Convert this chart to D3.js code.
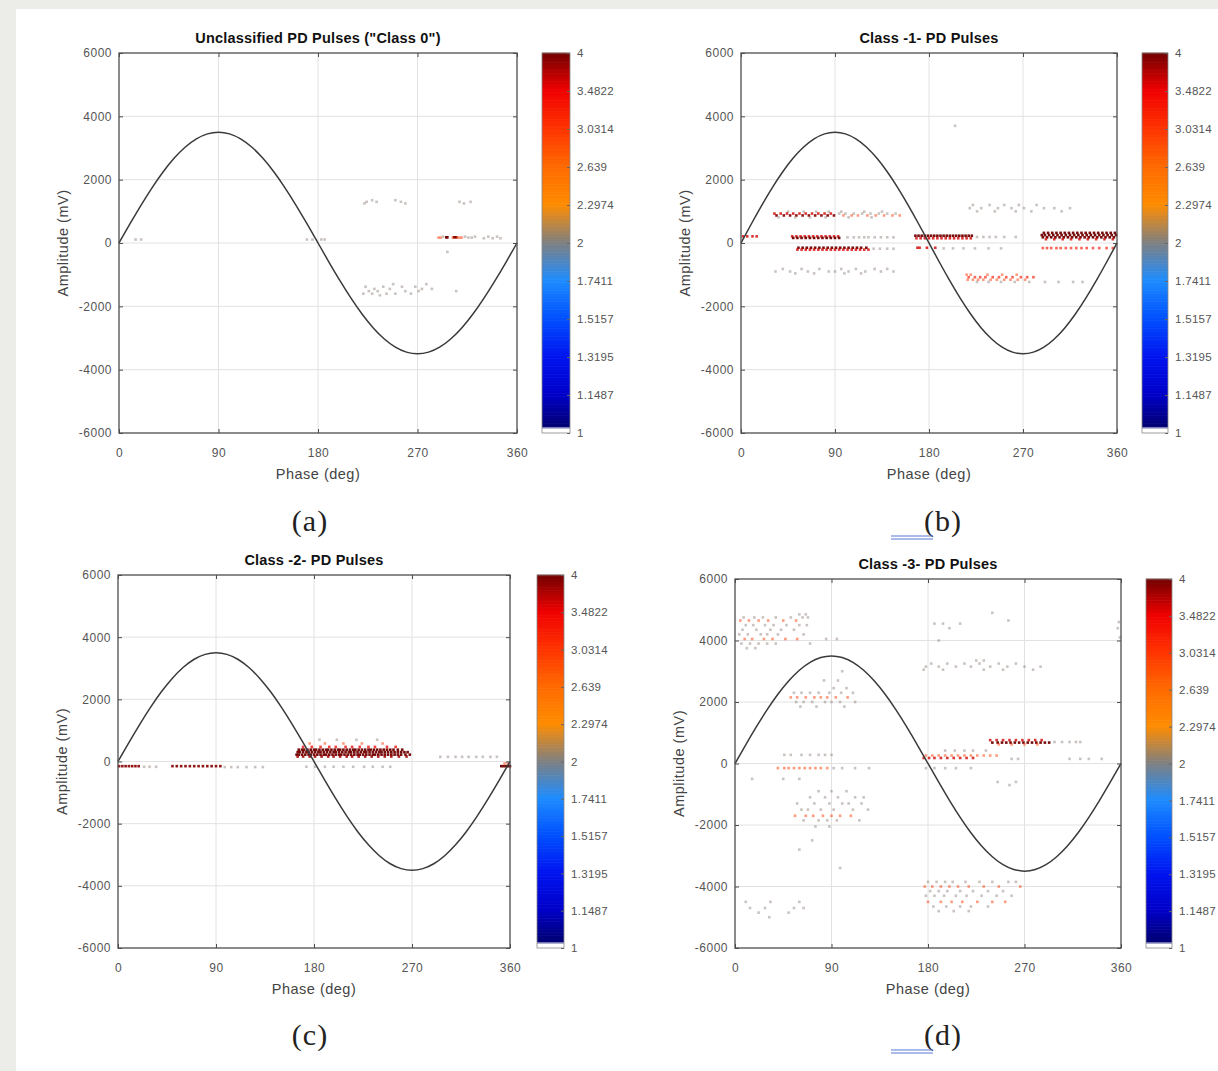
<!DOCTYPE html>
<html>
<head>
<meta charset="utf-8">
<script src="https://cdn.jsdelivr.net/npm/d3@7"></script>
<style>
  body { margin: 0; background: #fff; }
  svg text { font-family: "Liberation Sans", Arial, sans-serif; }
</style>
</head>
<body>
<svg id="chart" width="1218" height="1071"></svg>
<script>
// reference voltage waveform, read every 10 deg
var sinePhase = [0,10,20,30,40,50,60,70,80,90,100,110,120,130,140,150,160,170,180,
                 190,200,210,220,230,240,250,260,270,280,290,300,310,320,330,340,350,360];
var sineAmp = [0,608,1197,1750,2250,2681,3031,3289,3447,3500,3447,3289,3031,2681,2250,1750,1197,608,0,
               -608,-1197,-1750,-2250,-2681,-3031,-3289,-3447,-3500,-3447,-3289,-3031,-2681,-2250,-1750,-1197,-608,0];

var xTicks = [0, 90, 180, 270, 360];
var yTicks = [-6000, -4000, -2000, 0, 2000, 4000, 6000];
var cbTicks = [1, 1.1487, 1.3195, 1.5157, 1.7411, 2, 2.2974, 2.639, 3.0314, 3.4822, 4];
var cbLabels = ["1", "1.1487", "1.3195", "1.5157", "1.7411", "2", "2.2974", "2.639", "3.0314", "3.4822", "4"];

// colormap (position on log2 colour axis 0..1)
var cmapPos = [0, 0.012, 0.013, 0.1, 0.2, 0.3, 0.4, 0.5, 0.6, 0.7, 0.8, 0.9, 1];
var cmapColors = ["#ffffff", "#ffffff", "#000070", "#0000c8", "#0014f0", "#0050ff", "#1e8cff",
                  "#808080", "#ff8c00", "#ff6a00", "#ff3300", "#f00000", "#700000"];

var titles = ['Unclassified PD Pulses ("Class 0")', "Class -1- PD Pulses", "Class -2- PD Pulses", "Class -3- PD Pulses"];
var letters = ["(a)", "(b)", "(c)", "(d)"];

// pulses: [amplitude mV, colour value, [phases deg]]
var pulsesA = [
  [1350, 2, [229, 250]],
  [1300, 2, [224, 233, 255, 308, 318]],
  [1250, 2, [222, 259, 312]],
  [200, 2, [293, 313, 322, 334, 342]],
  [180, 4, [296, 297, 303, 305]],
  [170, 3, [289, 291, 302, 306, 308, 310]],
  [170, 2, [316, 319]],
  [150, 2, [330, 338, 345]],
  [110, 2, [15, 20, 170, 175, 183, 186]],
  [-280, 1.7, [297]],
  [-1300, 2, [248, 278]],
  [-1380, 2, [223, 239, 256, 268]],
  [-1450, 2, [231, 245, 274, 283]],
  [-1520, 2, [226, 234, 259, 271, 305]],
  [-1600, 2, [221, 229, 242, 250, 264]],
  [-1650, 2, [236]]
];

var pulsesB = [
  [3700, 2, [205]],
  [990, 2, [45, 60, 72, 84, 96, 118, 135]],
  [930, 3.6, [32, 38, 44, 50, 56, 62, 68, 74, 80, 86]],
  [930, 2, [94, 100, 108, 116, 124, 132, 140, 148]],
  [870, 3.9, [34, 41, 47, 53, 59, 65, 71, 77, 83, 89]],
  [870, 3, [98, 106, 112, 121, 129, 137, 145, 152]],
  [810, 2, [36, 52, 66, 81, 103, 125]],
  [210, 3.6, [2, 6, 11, 15, 49, 53, 57, 61, 65, 69, 73, 77, 81, 85, 89, 93]],
  [160, 4, [50, 54, 58, 62, 66, 70, 74, 78, 82, 86, 90, 94]],
  [180, 2, [102, 108, 113, 118, 122, 128, 134, 140, 146]],
  [-150, 4, [55, 59, 63, 67, 71, 75, 79, 83, 87, 91, 95, 99, 103, 107, 111, 115, 120]],
  [-210, 3.6, [54, 58, 62, 66, 70, 74, 78, 82, 86, 90, 94, 98, 102, 106, 110, 114, 118, 122]],
  [-180, 2, [127, 133, 140, 146]],
  [-820, 2, [40, 58, 75, 96, 110, 128, 140]],
  [-900, 2, [33, 47, 64, 84, 90, 103, 119, 134, 146]],
  [-960, 2, [52, 70, 99, 115]],
  [230, 4, [167, 170, 173, 176, 179, 182, 185, 188, 191, 194, 197, 200, 203, 206, 209, 212, 215, 218, 221]],
  [150, 3.6, [168, 172, 176, 180, 184, 188, 192, 196, 200, 204, 208, 212, 216, 220]],
  [190, 2, [226, 232, 238, 244, 252, 263]],
  [-150, 3.6, [169, 171, 178, 186]],
  [-170, 2, [194, 203, 213, 224, 237, 249]],
  [1200, 2, [222, 238, 252, 266, 283]],
  [1100, 2, [219, 230, 246, 259, 271, 290, 300, 315]],
  [1000, 2, [226, 243, 263, 278, 307]],
  [-1000, 3, [216, 220, 236, 250, 264]],
  [-1080, 3.3, [218, 224, 229, 234, 241, 247, 254, 260, 268, 274, 280]],
  [-1160, 3, [217, 222, 227, 232, 239, 245, 252, 258, 265, 272]],
  [-1230, 2, [226, 237, 249, 262, 276, 291, 304, 318, 327]],
  [320, 4, [290, 294, 298, 302, 306, 310, 314, 318, 322, 326, 330, 334, 338, 342, 346, 350, 354, 358]],
  [250, 4, [288, 291, 295, 299, 303, 307, 311, 315, 319, 323, 327, 331, 335, 339, 343, 347, 351, 355, 359]],
  [180, 4, [289, 293, 297, 301, 305, 309, 313, 317, 321, 325, 329, 333, 337, 341, 345, 349, 353, 357]],
  [120, 3.6, [292, 300, 308, 316, 324, 332, 340, 348, 356]],
  [-160, 3.3, [289, 293, 297, 302, 306, 311, 316, 321, 326, 331, 337, 343, 350, 356]]
];

var pulsesC = [
  [700, 2, [185, 201, 219, 238]],
  [580, 3, [176, 190, 207, 224, 243]],
  [470, 3.5, [170, 178, 186, 194, 200, 209, 215, 222, 230, 236, 247, 255]],
  [380, 4, [166, 169, 171, 174, 177, 180, 182, 185, 188, 191, 193, 196, 199, 202, 204, 207, 210, 213, 216,
            218, 221, 224, 227, 230, 232, 235, 238, 241, 244, 247, 250, 253, 257, 261]],
  [300, 4, [165, 167, 170, 173, 175, 178, 181, 184, 186, 189, 192, 195, 198, 200, 203, 206, 209, 212, 214,
            217, 220, 223, 226, 228, 231, 234, 237, 240, 242, 245, 248, 251, 254, 257, 260, 263, 266]],
  [220, 4, [164, 166, 169, 172, 175, 177, 180, 183, 186, 189, 191, 194, 197, 200, 203, 205, 208, 211, 214,
            217, 220, 222, 225, 228, 231, 234, 236, 239, 242, 245, 248, 251, 254, 257, 260, 264, 268]],
  [160, 3.8, [165, 170, 176, 181, 187, 193, 198, 204, 210, 215, 221, 227, 233, 239, 245, 251, 258, 265]],
  [150, 2, [296, 303, 310, 316, 322, 329, 335, 342, 348]],
  [-150, 3.9, [1, 4, 7, 10, 13, 16, 19]],
  [-170, 2, [24, 29, 35]],
  [-150, 3.9, [50, 54, 58, 62, 66, 70, 74, 78, 82, 86, 90, 94]],
  [-180, 2, [98, 104, 110, 118, 126, 133]],
  [-170, 2, [173, 181, 190, 198, 207, 216, 226, 234, 243, 250]],
  [-150, 4, [352, 354, 356, 358, 360]],
  [-60, 3, [355, 358]]
];

var pulsesD = [
  [4850, 2, [60, 66]],
  [4750, 2, [8, 18, 26, 38, 52, 63, 68]],
  [4650, 3, [5, 13, 22, 31, 45, 57]],
  [4500, 2, [10, 17, 28, 36, 48, 60, 67]],
  [4350, 2, [7, 20, 33, 43, 55]],
  [4200, 2, [4, 12, 24, 30, 40, 64]],
  [4050, 3, [9, 16, 27, 35, 47, 58]],
  [4050, 2, [85, 95]],
  [3900, 2, [6, 14, 22, 30, 38, 70]],
  [3750, 2, [11, 19]],
  [3000, 2, [100]],
  [2700, 2, [83, 96]],
  [2450, 2, [92, 104]],
  [2300, 2, [55, 62, 70, 78, 88, 99, 110]],
  [2150, 3, [52, 58, 66, 74, 80, 86, 94, 105]],
  [2000, 2, [57, 64, 72, 84, 90, 98, 112]],
  [1850, 2, [61, 76, 102]],
  [280, 2, [46, 52, 62, 70, 78, 84, 90]],
  [-150, 3, [40, 46, 50, 55, 60, 65, 70, 75, 80, 86]],
  [-150, 2, [92, 100, 112, 125]],
  [-500, 2, [16, 45, 60]],
  [-900, 2, [78, 90, 104]],
  [-1100, 2, [70, 84, 96, 112, 120]],
  [-1300, 2, [58, 74, 88, 100, 106, 118]],
  [-1500, 2, [62, 68, 80, 92, 110, 124]],
  [-1700, 3, [56, 66, 73, 82, 90, 98, 108]],
  [-1850, 2, [64, 78, 86, 95, 116]],
  [-2050, 2, [75, 88]],
  [-2500, 2, [72]],
  [-2800, 2, [60]],
  [-3400, 2, [98]],
  [-4500, 2, [10, 33, 60]],
  [-4700, 2, [14, 28, 55, 64]],
  [-4850, 2, [22, 50]],
  [-5000, 2, [32]],
  [4900, 2, [240]],
  [4650, 2, [255]],
  [4550, 2, [186, 194, 210]],
  [4400, 2, [200]],
  [4000, 2, [190]],
  [3350, 2, [225, 232]],
  [3250, 2, [183, 198, 214, 228, 246, 262]],
  [3150, 2, [178, 190, 206, 220, 238, 254, 270, 285]],
  [3050, 2, [176, 194, 232, 250, 278]],
  [760, 3.6, [238, 244, 250, 256, 262, 268, 274, 280, 286]],
  [680, 4, [240, 245, 249, 253, 257, 261, 265, 269, 273, 277, 281, 285, 289, 293]],
  [620, 3, [246, 258, 270, 282]],
  [700, 2, [298, 305, 312, 318, 322]],
  [260, 3, [178, 184, 190, 196, 202, 208, 214, 220, 226, 232, 238, 244]],
  [180, 3.6, [176, 181, 186, 192, 198, 204, 210, 216, 222]],
  [420, 2, [196, 205, 214, 222, 234]],
  [150, 2, [258, 264, 312, 322, 330, 342]],
  [-150, 2, [178, 186, 196, 206, 220]],
  [-600, 2, [245, 262]],
  [-700, 2, [256]],
  [-3850, 2, [180, 188, 196, 203, 215, 228, 240, 255, 262]],
  [-4000, 3, [177, 184, 192, 200, 208, 218, 232, 246, 266]],
  [-4150, 2, [182, 190, 198, 210, 222, 236, 250]],
  [-4300, 2, [178, 186, 195, 206, 216, 230, 244, 258]],
  [-4500, 3, [180, 192, 202, 212, 226, 240, 252]],
  [-4650, 2, [185, 197, 210, 220, 236]],
  [-4800, 2, [190, 204, 218]],
  [4600, 2, [358]],
  [4400, 2, [357]],
  [4100, 2, [359]]
];

var pulses = [pulsesA, pulsesB, pulsesC, pulsesD];

// panel placement in the page
var layout = [
  { x0: 119, x1: 517, y0: 53, y1: 433, cb0: 542, cb1: 570, lx: 310, ly: 531, ul: false },
  { x0: 741, x1: 1117, y0: 53, y1: 433, cb0: 1142, cb1: 1168, lx: 943, ly: 531, ul: true },
  { x0: 118, x1: 510, y0: 575, y1: 948, cb0: 537, cb1: 564, lx: 310, ly: 1045, ul: false },
  { x0: 735, x1: 1121, y0: 579, y1: 948, cb0: 1146, cb1: 1172, lx: 943, ly: 1045, ul: true }
];

var svg = d3.select("#chart");

// page background with grey frame
svg.append("rect").attr("width", 1218).attr("height", 1071).attr("fill", "#ecece8");
svg.append("rect").attr("x", 16).attr("y", 9).attr("width", 1218 - 16).attr("height", 1071 - 9).attr("fill", "#fff");

var color = d3.scaleLinear().domain(cmapPos).range(cmapColors).clamp(true);
var alpha = d3.scaleLinear().domain([2, 3, 3.5, 4]).range([0.45, 0.5, 0.75, 0.95]).clamp(true);
var axisColor = "#4d4d4d";

layout.forEach(function (L, i) {
    var g = svg.append("g");

    var x = d3.scaleLinear().domain([0, 360]).range([L.x0, L.x1]);
    var y = d3.scaleLinear().domain([-6000, 6000]).range([L.y1, L.y0]);

    // grid
    g.append("g").selectAll("line").data(xTicks.slice(1, -1)).join("line")
        .attr("x1", d => x(d)).attr("x2", d => x(d))
        .attr("y1", L.y0).attr("y2", L.y1)
        .attr("stroke", "#e2e2e2").attr("stroke-width", 1);
    g.append("g").selectAll("line").data(yTicks.slice(1, -1)).join("line")
        .attr("x1", L.x0).attr("x2", L.x1)
        .attr("y1", d => y(d)).attr("y2", d => y(d))
        .attr("stroke", "#e2e2e2").attr("stroke-width", 1);

    // pulses
    var pts = [];
    pulses[i].forEach(function (row) {
        row[2].forEach(function (p) { pts.push({ p: p, amp: row[0], v: row[1] }); });
    });
    g.append("g").selectAll("rect").data(pts).join("rect")
        .attr("x", d => x(d.p) - 1.3)
        .attr("y", d => y(d.amp) - 1.3)
        .attr("width", 2.6).attr("height", 2.6)
        .attr("fill", d => d.v <= 2 ? "#8a7a74" : color(Math.log2(d.v) / 2))
        .attr("fill-opacity", d => alpha(d.v));

    // sine reference
    var line = d3.line()
        .x((d, k) => x(sinePhase[k]))
        .y(d => y(d))
        .curve(d3.curveNatural);
    g.append("path")
        .datum(sineAmp)
        .attr("fill", "none")
        .attr("stroke", "#3a3a3a")
        .attr("stroke-width", 1.5)
        .attr("d", line);

    // axes, ticks pointing inward like MATLAB
    var styleAxis = function (a) {
        a.select(".domain").remove();
        a.selectAll(".tick line").attr("stroke", axisColor);
        a.selectAll(".tick text").attr("fill", "#555").attr("font-size", 12)
            .attr("letter-spacing", 0.5);
    };
    g.append("g").attr("transform", "translate(0," + L.y1 + ")")
        .call(d3.axisBottom(x).tickValues(xTicks).tickSize(-4).tickPadding(15).tickFormat(d => String(d)))
        .call(styleAxis);
    g.append("g").attr("transform", "translate(0," + L.y0 + ")")
        .call(d3.axisTop(x).tickValues(xTicks).tickSize(-4).tickFormat(""))
        .call(styleAxis);
    g.append("g").attr("transform", "translate(" + L.x0 + ",0)")
        .call(d3.axisLeft(y).tickValues(yTicks).tickSize(-4).tickPadding(7).tickFormat(d => String(d)))
        .call(styleAxis);
    g.append("g").attr("transform", "translate(" + L.x1 + ",0)")
        .call(d3.axisRight(y).tickValues(yTicks).tickSize(-4).tickFormat(""))
        .call(styleAxis);
    g.selectAll("text").attr("font-family", null);

    g.append("rect")
        .attr("x", L.x0).attr("y", L.y0)
        .attr("width", L.x1 - L.x0).attr("height", L.y1 - L.y0)
        .attr("fill", "none").attr("stroke", axisColor).attr("stroke-width", 1.3);

    // title and axis labels
    g.append("text")
        .attr("x", (L.x0 + L.x1) / 2).attr("y", L.y0 - 10)
        .attr("text-anchor", "middle")
        .attr("font-size", 14.5).attr("font-weight", "bold")
        .attr("letter-spacing", 0.2)
        .attr("fill", "#111")
        .text(titles[i]);
    g.append("text")
        .attr("x", (L.x0 + L.x1) / 2).attr("y", L.y1 + 46)
        .attr("text-anchor", "middle")
        .attr("font-size", 14.5).attr("letter-spacing", 0.5)
        .attr("fill", "#444")
        .text("Phase (deg)");
    g.append("text")
        .attr("transform", "translate(" + (L.x0 - 51) + "," + ((L.y0 + L.y1) / 2) + ") rotate(-90)")
        .attr("text-anchor", "middle")
        .attr("font-size", 14.5).attr("letter-spacing", 0.5)
        .attr("fill", "#444")
        .text("Amplitude (mV)");

    // colorbar
    var cy = d3.scaleLog().base(2).domain([1, 4]).range([L.y1, L.y0]);
    var steps = d3.range(0, 241).map(k => Math.pow(2, 2 * k / 240));
    g.append("g").selectAll("rect").data(steps.slice(0, -1)).join("rect")
        .attr("x", L.cb0).attr("width", L.cb1 - L.cb0)
        .attr("y", (d, k) => cy(steps[k + 1]) - 0.3)
        .attr("height", (d, k) => cy(d) - cy(steps[k + 1]) + 0.6)
        .attr("fill", d => color(Math.log2(d) / 2));
    g.append("rect")
        .attr("x", L.cb0).attr("y", L.y0)
        .attr("width", L.cb1 - L.cb0).attr("height", L.y1 - L.y0)
        .attr("fill", "none").attr("stroke", "#888").attr("stroke-width", 0.8);
    g.append("g").attr("transform", "translate(" + L.cb1 + ",0)")
        .call(d3.axisRight(cy).tickValues(cbTicks).tickFormat((d, k) => cbLabels[k]).tickSize(-3).tickPadding(7))
        .call(function (a) {
            a.select(".domain").remove();
            a.selectAll(".tick line").attr("stroke", "#666");
            a.selectAll(".tick text").attr("fill", "#555").attr("font-size", 11.5)
                .attr("letter-spacing", 0.3).attr("font-family", null);
        });

    // panel letter
    g.append("text")
        .attr("x", L.lx).attr("y", L.ly)
        .attr("text-anchor", "middle")
        .style("font-family", '"Liberation Serif", "Times New Roman", serif')
        .attr("font-size", 30)
        .attr("letter-spacing", 1)
        .attr("fill", "#222")
        .text(letters[i]);
    if (L.ul) {
        [0, 3].forEach(function (off) {
            g.append("line")
                .attr("x1", 891).attr("x2", 933)
                .attr("y1", L.ly + 5 + off).attr("y2", L.ly + 5 + off)
                .attr("stroke", "#5b7bd5").attr("stroke-width", 1.2);
        });
    }
});
</script>
</body>
</html>
